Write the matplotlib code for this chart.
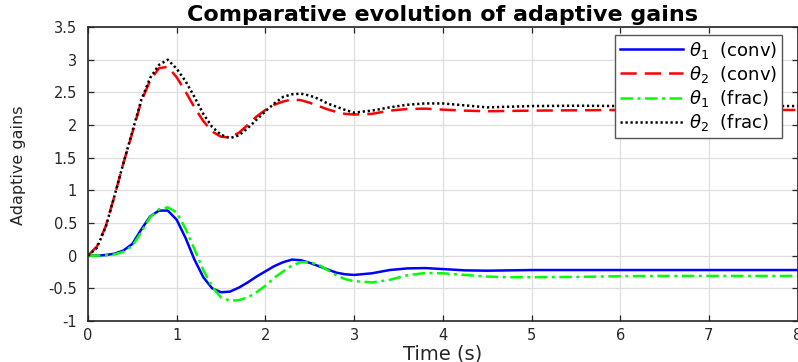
import matplotlib
matplotlib.use("Agg")
import matplotlib.pyplot as plt
from matplotlib.ticker import FuncFormatter

# ---------------- data ----------------
t = [0.0, 0.1, 0.2, 0.3, 0.4, 0.5, 0.6, 0.7, 0.8, 0.9,
     1.0, 1.1, 1.2, 1.3, 1.4, 1.5, 1.6, 1.7, 1.8, 1.9,
     2.0, 2.1, 2.2, 2.3, 2.4, 2.5, 2.6, 2.7, 2.8, 2.9,
     3.0, 3.2, 3.4, 3.6, 3.8, 4.0, 4.25, 4.5, 4.75, 5.0,
     5.5, 6.0, 6.5, 7.0, 7.5, 8.0]

theta1_conv = [0.0, 0.0, 0.01, 0.03, 0.08, 0.18, 0.40, 0.60, 0.69, 0.69,
               0.55, 0.27, -0.06, -0.33, -0.50, -0.56, -0.55, -0.49, -0.41, -0.32,
               -0.24, -0.16, -0.10, -0.06, -0.07, -0.11, -0.16, -0.21, -0.26, -0.285,
               -0.295, -0.27, -0.22, -0.195, -0.19, -0.205, -0.225, -0.23, -0.225, -0.22,
               -0.22, -0.22, -0.22, -0.22, -0.22, -0.22]

theta2_conv = [0.0, 0.14, 0.45, 0.92, 1.42, 1.88, 2.36, 2.68, 2.87, 2.89,
               2.73, 2.51, 2.27, 2.06, 1.90, 1.82, 1.81, 1.88, 2.00, 2.13,
               2.23, 2.31, 2.36, 2.39, 2.38, 2.34, 2.29, 2.24, 2.20, 2.17,
               2.16, 2.17, 2.22, 2.245, 2.25, 2.235, 2.22, 2.21, 2.215, 2.22,
               2.225, 2.23, 2.23, 2.23, 2.23, 2.23]

theta1_frac = [0.0, 0.0, 0.005, 0.02, 0.06, 0.15, 0.36, 0.59, 0.71, 0.74,
               0.66, 0.41, 0.10, -0.22, -0.48, -0.64, -0.69, -0.68, -0.64, -0.56,
               -0.46, -0.34, -0.24, -0.15, -0.10, -0.10, -0.14, -0.22, -0.30, -0.36,
               -0.39, -0.41, -0.37, -0.30, -0.265, -0.27, -0.295, -0.32, -0.33, -0.33,
               -0.325, -0.315, -0.31, -0.31, -0.31, -0.31]

theta2_frac = [0.0, 0.12, 0.44, 0.92, 1.42, 1.90, 2.38, 2.72, 2.92, 3.00,
               2.86, 2.67, 2.43, 2.17, 1.97, 1.85, 1.80, 1.84, 1.95, 2.08,
               2.21, 2.33, 2.43, 2.47, 2.48, 2.45, 2.40, 2.33, 2.28, 2.23,
               2.19, 2.22, 2.27, 2.31, 2.33, 2.33, 2.30, 2.27, 2.28, 2.29,
               2.295, 2.29, 2.29, 2.29, 2.29, 2.29]

labels = [r'$\theta_1$  (conv)', r'$\theta_2$  (conv)',
          r'$\theta_1$  (frac)', r'$\theta_2$  (frac)']
x_ticks = [0, 1, 2, 3, 4, 5, 6, 7, 8]
y_ticks = [-1, -0.5, 0, 0.5, 1, 1.5, 2, 2.5, 3, 3.5]

# ---------------- figure ----------------
plt.rcParams['font.family'] = ['DejaVu Sans']
plt.rcParams['axes.unicode_minus'] = False
plt.rcParams['mathtext.fontset'] = 'dejavusans'

W, H = 798, 362
fig = plt.figure(figsize=(W / 100, H / 100), dpi=100)
ax = fig.add_axes([88 / W, (H - 321) / H, 709.6 / W, 294 / H])

ax.plot(t, theta1_conv, color='#0000ff', lw=1.8, linestyle='-', label=labels[0])
ax.plot(t, theta2_conv, color='#ff0000', lw=1.8, linestyle=(0, (6.5, 3.2)), label=labels[1])
ax.plot(t, theta1_frac, color='#00ff00', lw=1.8, linestyle=(0, (5.0, 1.8, 1.2, 1.8)), label=labels[2])
ax.plot(t, theta2_frac, color='#000000', lw=1.8, linestyle=(0, (0.9, 1.1)), label=labels[3])

ax.set_xlim(0, 8)
ax.set_ylim(-1, 3.5)
ax.set_xticks(x_ticks)
ax.set_yticks(y_ticks)
fmt = FuncFormatter(lambda v, p: ('%g' % v))
ax.xaxis.set_major_formatter(fmt)
ax.yaxis.set_major_formatter(fmt)

ax.grid(True, color='#dedede', lw=0.9)
ax.set_axisbelow(True)
for s in ax.spines.values():
    s.set_color('#262626')
    s.set_linewidth(1.2)
ax.tick_params(direction='in', length=4, width=0.9, colors='#262626',
               top=True, right=True, labelsize=10.5)
ax.tick_params(axis='y', pad=8)
ax.tick_params(axis='x', pad=5)

ax.set_title('Comparative evolution of adaptive gains', fontsize=16,
             fontweight='bold', pad=4)
ax.set_xlabel('Time (s)', fontsize=14, color='#262626', labelpad=1)
ax.set_ylabel('Adaptive gains', fontsize=11.5, color='#262626')
ax.yaxis.set_label_coords(-0.088, 0.53)

leg = ax.legend(loc='upper right', bbox_to_anchor=(782 / W, 1 - 35 / H),
                bbox_transform=fig.transFigure, fontsize=13,
                handlelength=3.5, handletextpad=0.35, borderaxespad=0,
                labelspacing=0.18, borderpad=0.25, fancybox=False,
                framealpha=1, edgecolor='#555555')
leg.get_frame().set_linewidth(1.0)

fig.savefig('out.png', dpi=100)
